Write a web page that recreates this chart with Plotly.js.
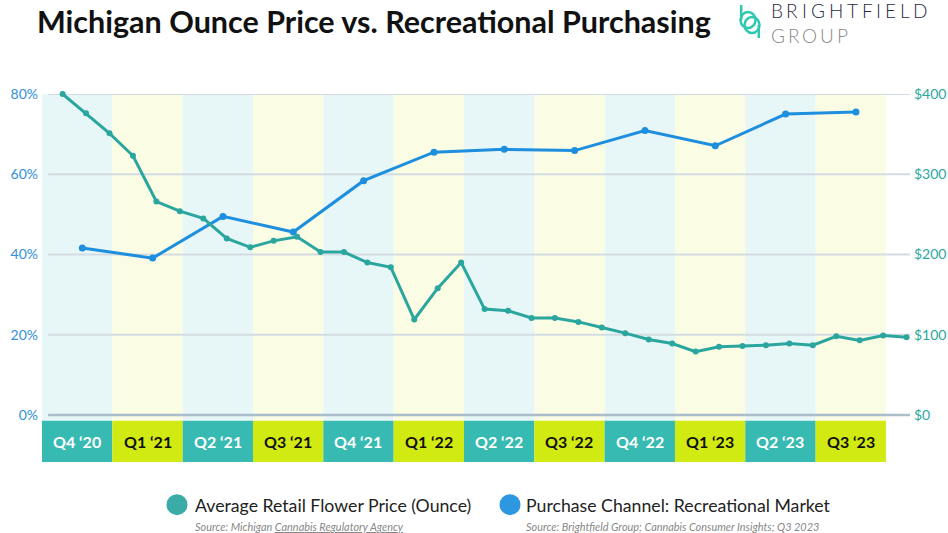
<!DOCTYPE html>
<html>
<head>
<meta charset="utf-8">
<script src="https://cdn.plot.ly/plotly-3.0.1.min.js"></script>
<style>
  html, body { margin: 0; padding: 0; background: #ffffff; }
  #chart { width: 948px; height: 533px; }
</style>
</head>
<body>
<div id="chart"></div>
<script>
// Quarter labels shown in the strip under the plot
const quarters = ["Q4 \u201820", "Q1 \u201821", "Q2 \u201821", "Q3 \u201821", "Q4 \u201821", "Q1 \u201822",
                  "Q2 \u201822", "Q3 \u201822", "Q4 \u201822", "Q1 \u201823", "Q2 \u201823", "Q3 \u201823"];

// Share of purchases made in the recreational market, one value per quarter (%)
const recreationalShare = [41.6, 39.1, 49.5, 45.6, 58.4, 65.5, 66.2, 65.9, 70.9, 67.1, 75.0, 75.5];

// Average retail flower price for an ounce, one value per month from Oct 2020 ($)
const ouncePrice = [400, 376, 351, 323, 266, 254, 245, 220, 209, 217, 222, 203,
                    203, 190, 184, 119, 158, 190, 132, 130, 121, 121, 116, 109,
                    102, 94, 89, 79, 85, 86, 87, 89, 87, 98, 93, 99, 97];

const leftTicks = [0, 20, 40, 60, 80];
const rightTicks = [0, 100, 200, 300, 400];

// ---- geometry -------------------------------------------------------------
const W = 948, H = 533;
const M = { l: 42, r: 38, t: 94, b: 71 };
const plotW = W - M.l - M.r, plotH = H - M.t - M.b;
const monthPx = 70.33 / 3;                  // one month on the x axis
const xMax = plotW / monthPx;               // months visible across the plot
const pctPx = 321 / 80;                      // pixels per percentage point
const yMin = -(plotH - 321) / pctPx;         // room below 0% for the quarter strip

// pixel -> paper helpers for decorations outside the plot area
const px = x => (x - M.l) / plotW;
const py = y => (H - M.b - y) / plotH;
const stripTop = -(420.7 - 415) / pctPx;

const FONT = "Lato, 'Open Sans', sans-serif";
const TEAL = "#2aa69f", BLUE = "#1e8ede";

// monthly price points sit near the end of each month, survey points mid-quarter
const priceX = ouncePrice.map((_, i) => i + 0.88);
const shareX = recreationalShare.map((_, k) => 3 * k + 1.72);

const traces = [
  {
    x: priceX, y: ouncePrice, yaxis: "y2", type: "scatter", mode: "lines+markers",
    line: { color: TEAL, width: 3 }, marker: { color: TEAL, size: 6 },
    cliponaxis: false, hoverinfo: "skip", showlegend: false
  },
  {
    x: shareX, y: recreationalShare, type: "scatter", mode: "lines+markers",
    line: { color: BLUE, width: 3 }, marker: { color: BLUE, size: 7 },
    cliponaxis: false, hoverinfo: "skip", showlegend: false
  }
];

const shapes = [];
const annotations = [];

// alternating quarter bands and the coloured label strip
quarters.forEach((q, k) => {
  const even = k % 2 === 0;
  shapes.push({
    type: "rect", xref: "x", yref: "y", x0: 3 * k, x1: 3 * k + 3, y0: stripTop, y1: 80,
    fillcolor: even ? "#e7f6f7" : "#fafce3", line: { width: 0 }, layer: "below"
  });
  shapes.push({
    type: "rect", xref: "x", yref: "y", x0: 3 * k, x1: 3 * k + 3, y0: yMin, y1: stripTop,
    fillcolor: even ? "#37bab2" : "#d1ea12", line: { width: 0 }, layer: "below"
  });
  annotations.push({
    x: 3 * k + 1.5, y: (yMin + stripTop) / 2, xref: "x", yref: "y", text: q, showarrow: false,
    font: { family: FONT, size: 16, weight: 700, color: even ? "#ffffff" : "#111111" },
    xanchor: "center", yanchor: "middle"
  });
});

// horizontal guides
leftTicks.forEach(v => {
  shapes.push({
    type: "line", xref: "x", yref: "y", x0: 0.26, x1: xMax, y0: v, y1: v,
    line: { color: v === 0 ? "#a9bdcb" : "#d3dce2", width: v === 0 ? 2.5 : 2 }, layer: "between"
  });
});

// legend swatches and texts
const legendItems = [
  { cx: 177, color: "#3aaba6", tx: 193, label: "Average Retail Flower Price (Ounce)",
    source: "Source: Michigan <u>Cannabis Regulatory Agency</u>" },
  { cx: 510, color: "#2d97e0", tx: 524, label: "Purchase Channel: Recreational Market",
    source: "Source: Brightfield Group; Cannabis Consumer Insights; Q3 2023" }
];
legendItems.forEach(it => {
  shapes.push({
    type: "circle", xref: "paper", yref: "paper",
    x0: px(it.cx - 10.5), x1: px(it.cx + 10.5), y0: py(504.7 + 10.5), y1: py(504.7 - 10.5),
    fillcolor: it.color, line: { width: 0 }
  });
  annotations.push({
    x: px(it.tx), y: py(505), xref: "paper", yref: "paper", text: it.label, showarrow: false,
    xanchor: "left", yanchor: "middle", font: { family: FONT, size: 17.7, color: "#222222" }
  });
  annotations.push({
    x: px(it.tx), y: py(526), xref: "paper", yref: "paper", text: "<i>" + it.source + "</i>",
    showarrow: false, xanchor: "left", yanchor: "middle",
    font: { family: FONT, size: 10.9, color: "#888888" }
  });
});

// brand mark: two interlocking rounded strokes
const LOGO = "#2cc9b0";
shapes.push({ type: "circle", xref: "paper", yref: "paper",
  x0: px(740.5), x1: px(755.5), y0: py(28), y1: py(12), line: { color: LOGO, width: 2.5 } });
shapes.push({ type: "circle", xref: "paper", yref: "paper",
  x0: px(744.5), x1: px(759.5), y0: py(33), y1: py(17), line: { color: LOGO, width: 2.5 } });
shapes.push({ type: "line", xref: "paper", yref: "paper",
  x0: px(741.2), x1: px(741.2), y0: py(5), y1: py(20), line: { color: LOGO, width: 2.5 } });
shapes.push({ type: "line", xref: "paper", yref: "paper",
  x0: px(758.8), x1: px(758.8), y0: py(25), y1: py(38), line: { color: LOGO, width: 2.5 } });

// wordmark: widely tracked capitals, each letter set in its own slot
const glyphEm = { B: 0.60, R: 0.60, I: 0.24, G: 0.72, H: 0.72, T: 0.55, F: 0.52, E: 0.54,
                  L: 0.47, D: 0.72, O: 0.78, U: 0.70, P: 0.57 };
const wordmark = [
  { text: "BRIGHTFIELD", left: 771, right: 927, cy: 11, color: "#2b2b3f" },
  { text: "GROUP", left: 771, right: 848, cy: 35, color: "#8a8a8a" }
];
const WM_SIZE = 19;
wordmark.forEach(w => {
  const letters = w.text.split("");
  const widths = letters.map(c => glyphEm[c] * WM_SIZE);
  const total = widths.reduce((a, b) => a + b, 0);
  const gap = (w.right - w.left - total) / (letters.length - 1);
  let x = w.left;
  letters.forEach((c, i) => {
    annotations.push({
      x: px(x + widths[i] / 2), y: py(w.cy), xref: "paper", yref: "paper", text: c,
      showarrow: false, xanchor: "center", yanchor: "middle", borderpad: 0,
      font: { family: FONT, size: WM_SIZE, weight: 300, color: w.color }
    });
    x += widths[i] + gap;
  });
});

const layout = {
  width: W, height: H,
  margin: M,
  paper_bgcolor: "#ffffff", plot_bgcolor: "rgba(0,0,0,0)",
  title: {
    text: "<b>Michigan Ounce Price vs. Recreational Purchasing</b>",
    xref: "container", yref: "container", x: 37 / W, xanchor: "left", y: 1 - 22 / H, yanchor: "middle",
    font: { family: FONT, size: 30.5, color: "#111111" }
  },
  xaxis: { range: [0, xMax], showgrid: false, zeroline: false, showticklabels: false, fixedrange: true },
  yaxis: {
    range: [yMin, 80], tickvals: leftTicks, ticktext: leftTicks.map(v => v + "%"),
    showgrid: false, zeroline: false, ticks: "", ticklabelstandoff: 3,
    tickfont: { family: FONT, size: 14, color: "#2f90dc" }
  },
  yaxis2: {
    overlaying: "y", side: "right", range: [yMin * 5, 400], tickvals: rightTicks,
    ticktext: rightTicks.map(v => "$" + v), showgrid: false, zeroline: false, ticks: "",
    ticklabelstandoff: 3, tickfont: { family: FONT, size: 14, color: "#2aa79e" }
  },
  shapes: shapes,
  annotations: annotations,
  showlegend: false
};

Plotly.newPlot("chart", traces, layout, { staticPlot: true, displayModeBar: false });
</script>
</body>
</html>
